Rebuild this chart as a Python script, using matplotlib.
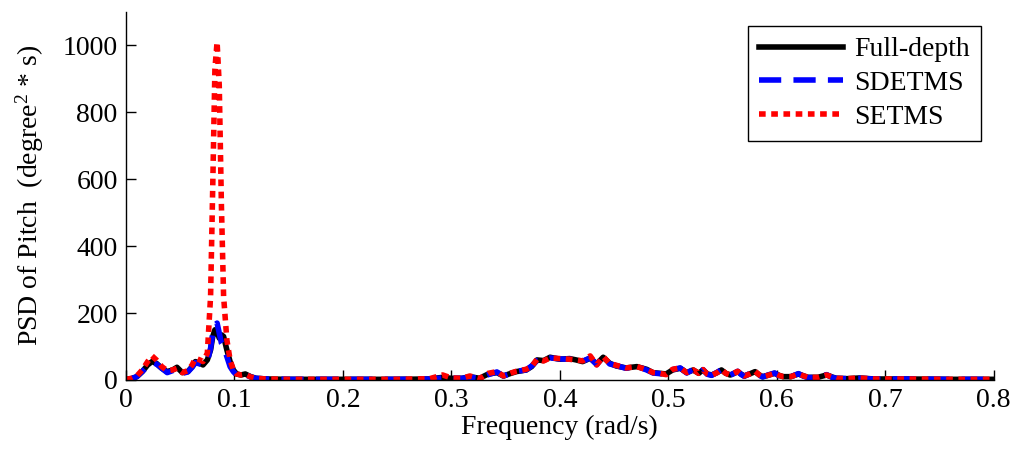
import matplotlib
matplotlib.use("Agg")
import matplotlib.pyplot as plt

plt.rcParams["font.family"] = ["Liberation Serif", "DejaVu Serif"]
plt.rcParams["mathtext.fontset"] = "custom"
plt.rcParams["mathtext.rm"] = "Liberation Serif"
plt.rcParams["mathtext.it"] = "Liberation Serif:italic"

# frequency samples (rad/s)
freq = [
    0.000, 0.005, 0.010, 0.015, 0.020, 0.024, 0.028, 0.033, 0.038, 0.043,
    0.047, 0.052, 0.057, 0.061, 0.064, 0.068, 0.071, 0.075, 0.078, 0.080,
    0.082, 0.084, 0.086, 0.088, 0.090, 0.093, 0.096, 0.099, 0.102, 0.106,
    0.110, 0.115, 0.120, 0.130, 0.150, 0.200, 0.250, 0.280, 0.292, 0.300,
    0.310, 0.317, 0.326, 0.334, 0.342, 0.348, 0.355, 0.360, 0.369, 0.374,
    0.379, 0.385, 0.391, 0.400, 0.409, 0.415, 0.421, 0.428, 0.434, 0.440,
    0.446, 0.452, 0.461, 0.471, 0.480, 0.486, 0.492, 0.498, 0.504, 0.511,
    0.517, 0.523, 0.528, 0.532, 0.536, 0.540, 0.545, 0.549, 0.553, 0.557,
    0.561, 0.564, 0.567, 0.570, 0.575, 0.580, 0.584, 0.587, 0.592, 0.598,
    0.602, 0.606, 0.613, 0.620, 0.625, 0.629, 0.638, 0.646, 0.651, 0.655,
    0.665, 0.676, 0.690, 0.720, 0.760, 0.800,
]

full_depth = [
    2, 4, 10, 25, 45, 55, 50, 35, 25, 30,
    38, 22, 25, 40, 55, 50, 45, 60, 90, 130,
    150, 145, 125, 135, 130, 90, 55, 30, 18, 15,
    18, 10, 5, 3, 2, 2, 2, 3, 8, 5,
    5, 10, 5, 18, 22, 12, 20, 25, 30, 40,
    60, 58, 68, 62, 64, 60, 55, 65, 48, 68,
    50, 42, 36, 40, 32, 22, 20, 18, 30, 35,
    22, 30, 20, 30, 18, 15, 22, 30, 20, 15,
    20, 25, 18, 12, 18, 25, 15, 10, 14, 20,
    14, 10, 10, 18, 12, 8, 8, 15, 9, 5,
    4, 6, 3, 3, 2, 2,
]

sdetms = [
    2, 4, 10, 25, 42, 52, 48, 35, 22, 28,
    33, 20, 24, 38, 52, 48, 45, 55, 95, 140,
    165, 170, 140, 110, 100, 70, 40, 25, 15, 14,
    16, 9, 5, 3, 2, 2, 2, 3, 6, 5,
    5, 9, 5, 16, 24, 12, 20, 26, 30, 42,
    58, 60, 66, 63, 62, 61, 56, 66, 46, 70,
    48, 43, 35, 41, 30, 21, 19, 17, 31, 36,
    21, 31, 19, 31, 17, 14, 23, 31, 19, 14,
    21, 26, 17, 11, 19, 26, 14, 9, 15, 21,
    13, 9, 10, 19, 11, 7, 8, 16, 8, 5,
    4, 5, 3, 3, 2, 2,
]

setms = [
    2, 5, 12, 30, 55, 72, 60, 40, 28, 30,
    35, 22, 28, 45, 65, 60, 55, 80, 250, 580,
    930, 1010, 880, 520, 250, 120, 60, 30, 18, 15,
    17, 9, 5, 3, 2, 2, 2, 4, 15, 6,
    5, 12, 4, 20, 25, 12, 21, 26, 32, 40,
    62, 57, 66, 64, 62, 60, 57, 72, 45, 70,
    49, 44, 36, 40, 31, 22, 20, 16, 32, 36,
    22, 30, 20, 31, 18, 14, 22, 31, 20, 15,
    21, 26, 18, 12, 18, 26, 15, 10, 14, 20,
    14, 10, 10, 18, 12, 8, 8, 15, 9, 5,
    4, 6, 3, 3, 2, 2,
]

fig = plt.figure(figsize=(10.16, 4.54), dpi=100)
ax = fig.add_axes([0.124, 0.163, 0.854, 0.811])

ax.plot(freq, full_depth, color="black", lw=4, label="Full-depth")
ax.plot(freq, sdetms, color="blue", lw=4, dashes=(4, 2.2), label="SDETMS")
ax.plot(freq, setms, color="red", lw=4, dashes=(1.2, 1.0), label="SETMS")

ax.set_xlim(0, 0.8)
ax.set_ylim(0, 1100)
ax.set_xticks([0, 0.1, 0.2, 0.3, 0.4, 0.5, 0.6, 0.7, 0.8],
              ["0", "0.1", "0.2", "0.3", "0.4", "0.5", "0.6", "0.7", "0.8"])
ax.set_yticks([0, 200, 400, 600, 800, 1000])
ax.tick_params(direction="in", length=7, width=1, labelsize=20, pad=6)
for side in ("top", "right"):
    ax.spines[side].set_visible(False)
for side in ("left", "bottom"):
    ax.spines[side].set_linewidth(1)

ax.set_xlabel("Frequency (rad/s)", fontsize=20, labelpad=1)
ax.set_ylabel(r"PSD of Pitch  (degree$^{2}$ * s)", fontsize=20, labelpad=12)

leg = ax.legend(loc="upper right", bbox_to_anchor=(0.985, 0.962), fontsize=20,
                borderaxespad=0, handlelength=3.0, handletextpad=0.4,
                labelspacing=0.3, borderpad=0.4, fancybox=False, framealpha=1)
leg.get_frame().set_edgecolor("black")
leg.get_frame().set_linewidth(1)

fig.savefig("out.png", dpi=100)
